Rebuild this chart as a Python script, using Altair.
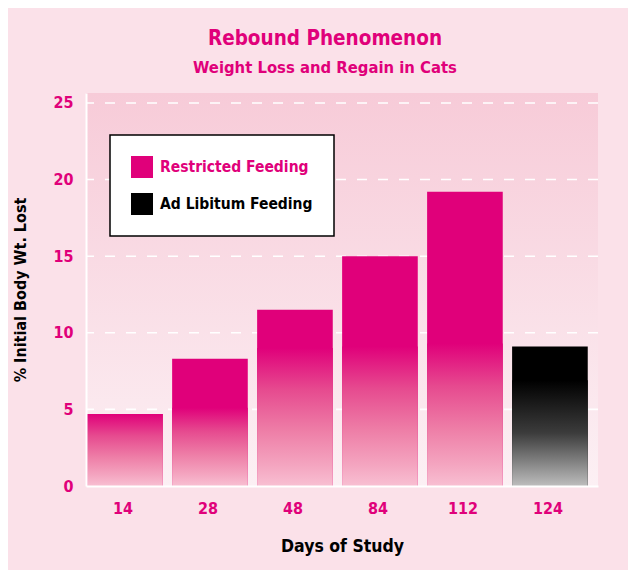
import altair as alt
import pandas as pd

# ---- data ----
days = ["14", "28", "48", "84", "112", "124"]
weight_lost = [4.7, 8.3, 11.5, 15.0, 19.2, 9.1]
feeding = ["Restricted Feeding"] * 5 + ["Ad Libitum Feeding"]
fade_start = [4.7, 5.1, 9.0, 9.1, 9.3, 6.9]   # level where each bar's fade begins
grid_values = [5, 10, 15, 20, 25]
y_ticks = [0, 5, 10, 15, 20, 25]

MAGENTA = "#e0007a"
FONT = "Liberation Sans Narrow, DejaVu Sans Condensed, Roboto, sans-serif"

df = pd.DataFrame({"day": days, "lost": weight_lost, "feeding": feeding, "fade": fade_start})
grid_df = pd.DataFrame({"g": grid_values})

x_enc = alt.X("day:N", sort=days,
              scale=alt.Scale(paddingInner=0.11, paddingOuter=0.067, align=0.1),
              axis=alt.Axis(title="Days of Study", labelAngle=0, labelFont=FONT, labelFontSize=16,
                            labelFontWeight="bold", labelColor=MAGENTA, labelPadding=14,
                            labelOffset=-2,
                            ticks=False, domainColor="white", domainWidth=2,
                            titleFont=FONT, titleFontSize=17.5, titleFontWeight="bold",
                            titleColor="black", titlePadding=21, zindex=1))
y_scale = alt.Scale(domain=[0, 25.65], nice=False, zero=True)
y_axis = alt.Axis(title="% Initial Body Wt. Lost", values=y_ticks, grid=False, ticks=False,
                  labelFont=FONT, labelFontSize=16, labelFontWeight="bold", labelColor=MAGENTA,
                  labelPadding=13, domainColor="white", domainWidth=2,
                  titleFont=FONT, titleFontSize=16, titleFontWeight="bold", titleColor="black",
                  titlePadding=24, zindex=1)

bg_grad = alt.LinearGradient(gradient="linear", x1=0, x2=0, y1=0, y2=1,
                             stops=[alt.GradientStop(offset=0, color="#f7cbd8"),
                                    alt.GradientStop(offset=1, color="#fcf0f4")])
plot_bg = alt.Chart(pd.DataFrame({"a": [0]})).mark_rect(fill=bg_grad).encode(
    x=alt.value(0), x2=alt.value("width"), y=alt.value(0), y2=alt.value("height"))

grid = alt.Chart(grid_df).mark_rule(color="white", strokeWidth=1.6, strokeDash=[10, 11]).encode(
    y=alt.Y("g:Q", scale=y_scale, axis=y_axis))

top = alt.Chart(df).mark_bar(cornerRadius=0).encode(
    x=x_enc,
    y=alt.Y("lost:Q", scale=y_scale, axis=y_axis),
    y2=alt.datum(0),
    color=alt.Color("feeding:N",
                    scale=alt.Scale(domain=["Restricted Feeding", "Ad Libitum Feeding"],
                                    range=[MAGENTA, "#000000"]),
                    legend=alt.Legend(title=None, orient="none", legendX=24, legendY=42,
                                      fillColor="white", strokeColor="black",
                                      padding=21, symbolType="square", symbolSize=484,
                                      symbolStrokeWidth=0, symbolOpacity=1,
                                      labelFont=FONT, labelFontSize=15.5, labelFontWeight="bold",
                                      labelOffset=7, rowPadding=15, labelLimit=300,
                                      labelColor={"expr": "datum.label == 'Restricted Feeding' ? '#e0007a' : '#000000'"})),
)

mag_grad = alt.LinearGradient(gradient="linear", x1=0, x2=0, y1=0, y2=1,
                              stops=[alt.GradientStop(offset=0, color=MAGENTA),
                                     alt.GradientStop(offset=0.3, color="#e64a8f"),
                                     alt.GradientStop(offset=0.6, color="#ee7ea7"),
                                     alt.GradientStop(offset=0.85, color="#f4a5c0"),
                                     alt.GradientStop(offset=1, color="#f8bfd2")])
blk_grad = alt.LinearGradient(gradient="linear", x1=0, x2=0, y1=0, y2=1,
                              stops=[alt.GradientStop(offset=0, color="#000000"),
                                     alt.GradientStop(offset=0.5, color="#3c3c3c"),
                                     alt.GradientStop(offset=1, color="#bdbdbd")])

fade_mag = alt.Chart(df).transform_filter(alt.datum.feeding == "Restricted Feeding").mark_bar(
    color=mag_grad).encode(x=x_enc, y=alt.Y("fade:Q", scale=y_scale, axis=y_axis), y2=alt.datum(0))
fade_blk = alt.Chart(df).transform_filter(alt.datum.feeding == "Ad Libitum Feeding").mark_bar(
    color=blk_grad).encode(x=x_enc, y=alt.Y("fade:Q", scale=y_scale, axis=y_axis), y2=alt.datum(0))

chart = alt.layer(plot_bg, grid, top, fade_mag, fade_blk).properties(
    width=512, height=393,
    title=alt.TitleParams("Rebound Phenomenon", subtitle="Weight Loss and Regain in Cats",
                          font=FONT, fontSize=20.5, fontWeight="bold", color=MAGENTA,
                          subtitleFont=FONT, subtitleFontSize=16.5, subtitleFontWeight="bold",
                          subtitleColor=MAGENTA, subtitlePadding=10, anchor="middle",
                          offset=17, dx=-17),
    autosize=alt.AutoSizeParams(type="none"),
    padding={"left": 78, "top": 85, "right": 30, "bottom": 84},
    background="#fbe1e9",
).configure_view(stroke=None).configure_legend(strokeWidth=1.5)

chart.save("out.html", embed_options={"renderer": "svg", "actions": False})
